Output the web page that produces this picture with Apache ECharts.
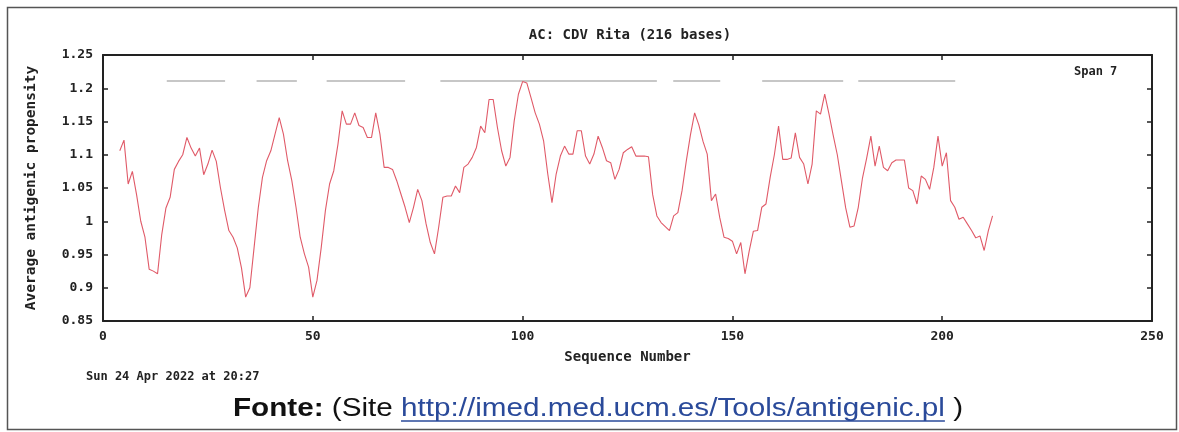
<!DOCTYPE html>
<html>
<head>
<meta charset="utf-8">
<script src="https://cdn.jsdelivr.net/npm/echarts@6/dist/echarts.min.js"></script>
<style>
html,body{margin:0;padding:0;background:#fff;}
#chart{width:1179px;height:432px;}
</style>
</head>
<body>
<div id="chart"></div>
<script>
// ---- data ----
const titleText = 'AC: CDV Rita (216 bases)';
const xAxisName = 'Sequence Number';
const yAxisName = 'Average antigenic propensity';
const spanLabel = 'Span 7';
const dateLabel = 'Sun 24 Apr 2022 at 20:27';
const sourceBold = 'Fonte:';
const sourcePre = ' (Site ';
const sourceLink = 'http://imed.med.ucm.es/Tools/antigenic.pl';
const sourcePost = ' )';

const startPosition = 4;
const propensity = [
  1.106, 1.122, 1.056, 1.075, 1.040, 1.000, 0.976, 0.928, 0.925, 0.921,
  0.980, 1.020, 1.036, 1.078, 1.090, 1.100, 1.126, 1.110, 1.098, 1.110,
  1.070, 1.086, 1.107, 1.090, 1.050, 1.016, 0.986, 0.976, 0.960, 0.930,
  0.886, 0.900, 0.960, 1.020, 1.066, 1.091, 1.106, 1.131, 1.156, 1.131,
  1.091, 1.061, 1.021, 0.976, 0.951, 0.931, 0.886, 0.911, 0.960, 1.016,
  1.056, 1.076, 1.116, 1.166, 1.146, 1.146, 1.163, 1.144, 1.141, 1.126,
  1.126, 1.163, 1.131, 1.081, 1.081, 1.078, 1.061, 1.041, 1.021, 0.998,
  1.021, 1.048, 1.031, 0.996, 0.968, 0.951, 0.991, 1.036, 1.038, 1.038,
  1.053, 1.043, 1.081, 1.086, 1.096, 1.111, 1.143, 1.133, 1.183, 1.183,
  1.141, 1.106, 1.083, 1.096, 1.151, 1.191, 1.210, 1.208, 1.186, 1.163,
  1.146, 1.121, 1.071, 1.028, 1.071, 1.098, 1.113, 1.101, 1.101, 1.136,
  1.136, 1.098, 1.086, 1.101, 1.128, 1.111, 1.091, 1.088, 1.063, 1.078,
  1.103, 1.108, 1.112, 1.098, 1.098, 1.098, 1.097, 1.040, 1.008, 0.998,
  0.992, 0.986, 1.008, 1.013, 1.046, 1.090, 1.130, 1.163, 1.145, 1.120,
  1.101, 1.031, 1.041, 1.005, 0.976, 0.974, 0.970, 0.951, 0.968, 0.921,
  0.955, 0.985, 0.986, 1.021, 1.026, 1.066, 1.100, 1.143, 1.093, 1.093,
  1.095, 1.133, 1.096, 1.086, 1.056, 1.086, 1.166, 1.161, 1.191, 1.162,
  1.130, 1.100, 1.060, 1.020, 0.991, 0.993, 1.021, 1.065, 1.095, 1.128,
  1.083, 1.113, 1.081, 1.076, 1.088, 1.092, 1.092, 1.092, 1.050, 1.046,
  1.026, 1.068, 1.063, 1.048, 1.081, 1.128, 1.083, 1.103, 1.031, 1.021,
  1.003, 1.006, 0.996, 0.986, 0.975, 0.978, 0.956, 0.986, 1.008
];

// antigenic determinant regions (drawn as grey bars near the top)
const regionLevel = 1.211;
const regionStart = [15.2, 36.6, 53.3, 80.4, 135.9, 157.1, 180.0];
const regionEnd   = [29.1, 46.2, 72.0, 132.0, 147.1, 176.4, 203.1];

const xMin = 0, xMax = 250, xInterval = 50;
const yMin = 0.85, yMax = 1.25, yInterval = 0.05;

// ---- chart ----
const chart = echarts.init(document.getElementById('chart'));
const mono = '"DejaVu Sans Mono", "Liberation Mono", monospace';
const axisColor = '#222';

const lineData = propensity.map((v, i) => [startPosition + i, v]);

const regionSeries = regionStart.map((s, i) => ({
  type: 'line',
  xAxisIndex: 0, yAxisIndex: 0,
  data: [[s, regionLevel], [regionEnd[i], regionLevel]],
  showSymbol: false,
  silent: true,
  lineStyle: { color: '#b4b4b4', width: 1.5 },
  z: 1
}));

function axisBase(extra) {
  return Object.assign({
    axisLine: { show: true, onZero: false, lineStyle: { color: axisColor, width: 2 } },
    axisTick: { show: true, inside: true, length: 5, lineStyle: { color: axisColor, width: 1.5 } },
    splitLine: { show: false }
  }, extra);
}

const option = {
  backgroundColor: '#fff',
  animation: false,
  title: {
    text: titleText,
    left: 625, top: 23, textAlign: 'center',
    textStyle: { fontFamily: mono, fontSize: 14, fontWeight: 'bold', color: '#222' }
  },
  grid: { left: 103, right: 27, top: 55, bottom: 111, containLabel: false },
  xAxis: [
    axisBase({
      type: 'value', position: 'bottom', min: xMin, max: xMax, interval: xInterval,
      name: xAxisName, nameLocation: 'middle', nameGap: 29,
      nameTextStyle: { fontFamily: mono, fontSize: 14, fontWeight: 'bold', color: '#222' },
      axisLabel: { margin: 9, fontFamily: mono, fontSize: 13, fontWeight: 'bold', color: '#222' }
    }),
    axisBase({
      type: 'value', position: 'top', min: xMin, max: xMax, interval: xInterval,
      axisLabel: { show: false }
    })
  ],
  yAxis: [
    axisBase({
      type: 'value', position: 'left', min: yMin, max: yMax, interval: yInterval,
      name: yAxisName, nameLocation: 'middle', nameGap: 64, nameRotate: 90,
      nameTextStyle: { fontFamily: mono, fontSize: 14.5, fontWeight: 'bold', color: '#222' },
      axisLabel: { margin: 10, fontFamily: mono, fontSize: 13, fontWeight: 'bold', color: '#222',
        formatter: v => String(parseFloat(v.toFixed(2))) }
    }),
    axisBase({
      type: 'value', position: 'right', min: yMin, max: yMax, interval: yInterval,
      axisLabel: { show: false }
    })
  ],
  series: regionSeries.concat([{
    type: 'line',
    xAxisIndex: 0, yAxisIndex: 0,
    data: lineData,
    showSymbol: false,
    lineStyle: { color: '#e05a68', width: 1.1 },
    z: 3
  }])
};
chart.setOption(option);

// ---- overlay texts ----
const ctx = document.createElement('canvas').getContext('2d');
const srcSize = 25;
const boldFont = 'bold ' + srcSize + 'px "Liberation Sans", Arial, sans-serif';
const regFont = srcSize + 'px "Liberation Sans", Arial, sans-serif';
ctx.font = boldFont; const wBold = ctx.measureText(sourceBold).width;
ctx.font = regFont;
const wPre = ctx.measureText(sourcePre).width;
const wLink = ctx.measureText(sourceLink).width;
const wPost = ctx.measureText(sourcePost).width;
const total = wBold + wPre + wLink + wPost;
const targetLeft = 233, targetRight = 963;
const sx = (targetRight - targetLeft) / total;

chart.setOption({
  graphic: [
    { type: 'rect', left: 5, top: 5, shape: { width: 1169, height: 422 },
      style: { fill: 'none', stroke: '#555', lineWidth: 1.5 }, silent: true, z: 0 },
    { type: 'text', left: 1074, top: 66,
      style: { text: spanLabel, font: 'bold 12px ' + mono, fill: '#222' } },
    { type: 'text', left: 86, top: 371,
      style: { text: dateLabel, font: 'bold 12px ' + mono, fill: '#222' } },
    { type: 'group', x: targetLeft, y: 409, scaleX: sx, children: [
      { type: 'text', x: 0, y: 0, style: { text: sourceBold, font: boldFont, fill: '#111', verticalAlign: 'middle' } },
      { type: 'text', x: wBold, y: 0, style: { text: sourcePre, font: regFont, fill: '#111', verticalAlign: 'middle' } },
      { type: 'text', x: wBold + wPre, y: 0, style: { text: sourceLink, font: regFont, fill: '#2a4a9a', verticalAlign: 'middle' } },
      { type: 'line', shape: { x1: wBold + wPre, y1: 12, x2: wBold + wPre + wLink, y2: 12 },
        style: { stroke: '#2a4a9a', lineWidth: 1.5 } },
      { type: 'text', x: wBold + wPre + wLink, y: 0, style: { text: sourcePost, font: regFont, fill: '#111', verticalAlign: 'middle' } }
    ]}
  ]
});
</script>
</body>
</html>
